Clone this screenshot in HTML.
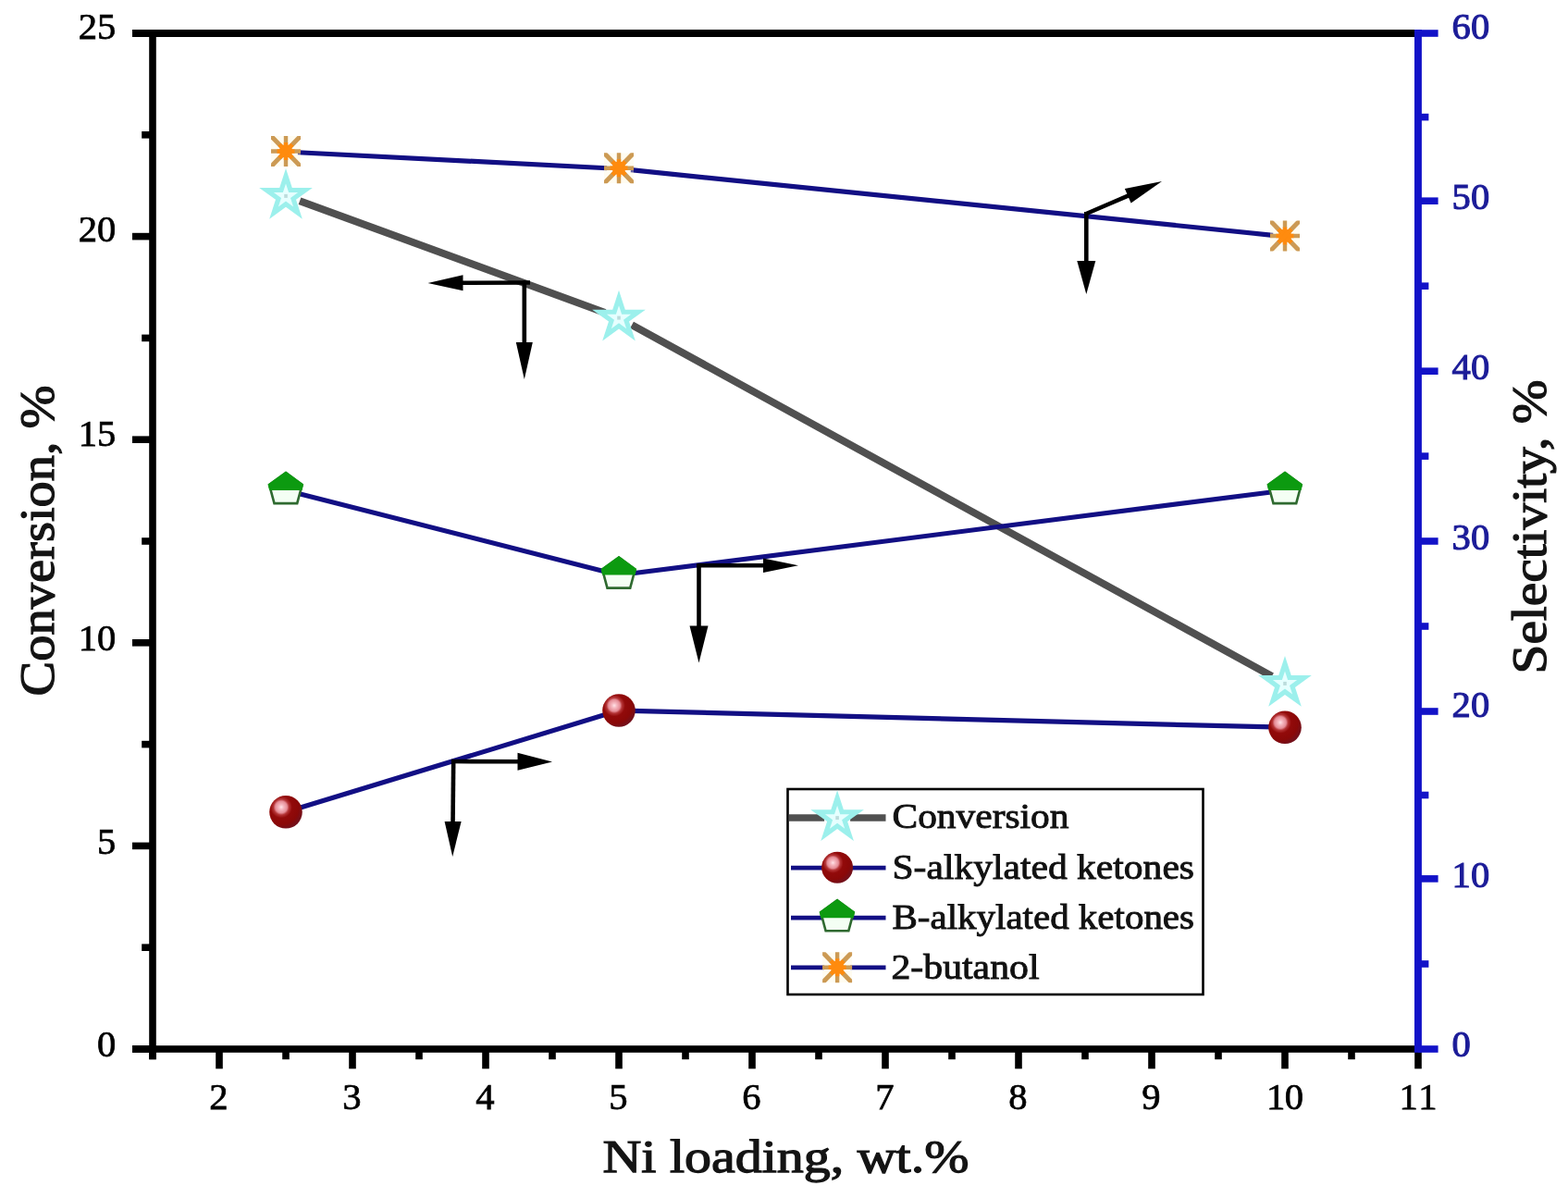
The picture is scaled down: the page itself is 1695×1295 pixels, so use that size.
<!DOCTYPE html>
<html lang="en"><head><meta charset="utf-8"><title>Conversion and selectivity vs Ni loading</title>
<style>html,body{margin:0;padding:0;background:#fff}body{width:1695px;height:1295px;overflow:hidden}svg{display:block}</style>
</head><body>
<svg width="1695" height="1295" viewBox="0 0 1695 1295">
<defs>
<radialGradient id="ball" cx="0.36" cy="0.35" r="0.66" fx="0.36" fy="0.35"><stop offset="0" stop-color="#ffe4e8"/><stop offset="0.10" stop-color="#f7bcc4"/><stop offset="0.27" stop-color="#e58c96"/><stop offset="0.36" stop-color="#b43436"/><stop offset="0.5" stop-color="#920a0a"/><stop offset="0.8" stop-color="#8a0808"/><stop offset="1" stop-color="#74101a"/></radialGradient>
<clipPath id="abox"><rect x="-16" y="-16.5" width="32" height="33"/></clipPath>
</defs>
<rect width="1695" height="1295" fill="#ffffff"/>
<line x1="324.03" y1="217.18" x2="653.97" y2="337.94" stroke="#505050" stroke-width="8.0"/>
<line x1="683.03" y1="351.14" x2="1374.97" y2="731.02" stroke="#505050" stroke-width="8.0"/>
<line x1="321.98" y1="164.76" x2="656.02" y2="181.74" stroke="#120f84" stroke-width="5.2"/>
<line x1="681.93" y1="183.71" x2="1376.07" y2="254.29" stroke="#120f84" stroke-width="5.2"/>
<line x1="321.60" y1="533.30" x2="656.40" y2="618.40" stroke="#120f84" stroke-width="5.2"/>
<line x1="681.90" y1="619.96" x2="1376.10" y2="531.74" stroke="#120f84" stroke-width="5.2"/>
<line x1="321.43" y1="874.01" x2="656.57" y2="771.79" stroke="#120f84" stroke-width="5.2"/>
<line x1="682.00" y1="768.33" x2="1376.00" y2="785.97" stroke="#120f84" stroke-width="5.2"/>
<circle cx="309.0" cy="877.8" r="17.8" fill="url(#ball)"/>
<circle cx="669.0" cy="768.0" r="17.8" fill="url(#ball)"/>
<circle cx="1389.0" cy="786.3" r="17.8" fill="url(#ball)"/>
<polygon points="309.00,511.00 326.60,524.00 321.20,544.10 296.50,544.10 291.10,524.00" fill="#f4fff4" stroke="#2f6a30" stroke-width="2.6"/>
<polygon points="309.00,509.60 328.10,523.60 326.50,530.10 291.20,530.10 289.60,523.60" fill="#0c9a10"/>
<polygon points="669.00,602.50 686.60,615.50 681.20,635.60 656.50,635.60 651.10,615.50" fill="#f4fff4" stroke="#2f6a30" stroke-width="2.6"/>
<polygon points="669.00,601.10 688.10,615.10 686.50,621.60 651.20,621.60 649.60,615.10" fill="#0c9a10"/>
<polygon points="1389.00,511.00 1406.60,524.00 1401.20,544.10 1376.50,544.10 1371.10,524.00" fill="#f4fff4" stroke="#2f6a30" stroke-width="2.6"/>
<polygon points="1389.00,509.60 1408.10,523.60 1406.50,530.10 1371.20,530.10 1369.60,523.60" fill="#0c9a10"/>
<polygon points="309.00,181.98 315.80,202.92 337.82,202.92 320.01,215.86 326.81,236.79 309.00,223.85 291.19,236.79 297.99,215.86 280.18,202.92 302.20,202.92" fill="#9cf0ec"/>
<polygon points="309.00,198.48 312.10,208.02 322.12,208.02 314.01,213.91 317.11,223.44 309.00,217.55 300.89,223.44 303.99,213.91 295.88,208.02 305.90,208.02" fill="#e6ffff"/>
<rect x="307.2" y="209.9" width="3.6" height="4" fill="#bcdcdc"/>
<polygon points="669.00,313.74 675.80,334.68 697.82,334.68 680.01,347.62 686.81,368.55 669.00,355.61 651.19,368.55 657.99,347.62 640.18,334.68 662.20,334.68" fill="#9cf0ec"/>
<polygon points="669.00,330.24 672.10,339.78 682.12,339.78 674.01,345.67 677.11,355.20 669.00,349.31 660.89,355.20 663.99,345.67 655.88,339.78 665.90,339.78" fill="#e6ffff"/>
<rect x="667.2" y="341.6" width="3.6" height="4" fill="#bcdcdc"/>
<polygon points="1389.00,709.02 1395.80,729.96 1417.82,729.96 1400.01,742.90 1406.81,763.83 1389.00,750.89 1371.19,763.83 1377.99,742.90 1360.18,729.96 1382.20,729.96" fill="#9cf0ec"/>
<polygon points="1389.00,725.52 1392.10,735.06 1402.12,735.06 1394.01,740.95 1397.11,750.48 1389.00,744.59 1380.89,750.48 1383.99,740.95 1375.88,735.06 1385.90,735.06" fill="#e6ffff"/>
<rect x="1387.2" y="736.9" width="3.6" height="4" fill="#bcdcdc"/>
<g transform="translate(309.00,163.50)" clip-path="url(#abox)"><rect x="-16" y="-16.5" width="32" height="33" fill="#fff6d8" opacity="0.35"/><g stroke="#cc9a54" stroke-width="4.4"><line x1="-17" y1="0" x2="17" y2="0"/><line x1="0" y1="-18" x2="0" y2="18"/><line x1="-18" y1="-18.56" x2="18" y2="18.56" stroke-width="5.0"/><line x1="-18" y1="18.56" x2="18" y2="-18.56" stroke-width="5.0"/></g><circle r="7.2" fill="#ff8b0e"/><g stroke="#ff8b0e" stroke-width="4.4"><line x1="-9.5" y1="0" x2="9.5" y2="0"/><line x1="0" y1="-9.5" x2="0" y2="9.5"/><line x1="-7" y1="-7.2" x2="7" y2="7.2"/><line x1="-7" y1="7.2" x2="7" y2="-7.2"/></g></g>
<g transform="translate(669.00,181.80)" clip-path="url(#abox)"><rect x="-16" y="-16.5" width="32" height="33" fill="#fff6d8" opacity="0.35"/><g stroke="#cc9a54" stroke-width="4.4"><line x1="-17" y1="0" x2="17" y2="0"/><line x1="0" y1="-18" x2="0" y2="18"/><line x1="-18" y1="-18.56" x2="18" y2="18.56" stroke-width="5.0"/><line x1="-18" y1="18.56" x2="18" y2="-18.56" stroke-width="5.0"/></g><circle r="7.2" fill="#ff8b0e"/><g stroke="#ff8b0e" stroke-width="4.4"><line x1="-9.5" y1="0" x2="9.5" y2="0"/><line x1="0" y1="-9.5" x2="0" y2="9.5"/><line x1="-7" y1="-7.2" x2="7" y2="7.2"/><line x1="-7" y1="7.2" x2="7" y2="-7.2"/></g></g>
<g transform="translate(1389.00,255.00)" clip-path="url(#abox)"><rect x="-16" y="-16.5" width="32" height="33" fill="#fff6d8" opacity="0.35"/><g stroke="#cc9a54" stroke-width="4.4"><line x1="-17" y1="0" x2="17" y2="0"/><line x1="0" y1="-18" x2="0" y2="18"/><line x1="-18" y1="-18.56" x2="18" y2="18.56" stroke-width="5.0"/><line x1="-18" y1="18.56" x2="18" y2="-18.56" stroke-width="5.0"/></g><circle r="7.2" fill="#ff8b0e"/><g stroke="#ff8b0e" stroke-width="4.4"><line x1="-9.5" y1="0" x2="9.5" y2="0"/><line x1="0" y1="-9.5" x2="0" y2="9.5"/><line x1="-7" y1="-7.2" x2="7" y2="7.2"/><line x1="-7" y1="7.2" x2="7" y2="-7.2"/></g></g>
<line x1="573.0" y1="305.5" x2="496.5" y2="305.8" stroke="#000" stroke-width="4.6"/>
<polygon points="462.5,306.0 500.5,297.3 500.5,314.3" fill="#000"/>
<line x1="566.8" y1="303.5" x2="566.8" y2="374.0" stroke="#000" stroke-width="4.6"/>
<polygon points="566.8,410.0 557.8,370.0 575.8,370.0" fill="#000"/>
<line x1="1174.3" y1="231.0" x2="1222.9" y2="210.2" stroke="#000" stroke-width="4.6"/>
<polygon points="1256.0,196.0 1222.6,219.6 1215.9,203.9" fill="#000"/>
<line x1="1174.3" y1="229.0" x2="1174.3" y2="286.0" stroke="#000" stroke-width="4.6"/>
<polygon points="1174.3,318.0 1164.3,282.0 1184.3,282.0" fill="#000"/>
<line x1="753.0" y1="611.3" x2="829.0" y2="611.3" stroke="#000" stroke-width="4.6"/>
<polygon points="863.0,611.3 825.0,619.0 825.0,603.5" fill="#000"/>
<line x1="755.5" y1="609.0" x2="755.5" y2="680.5" stroke="#000" stroke-width="4.6"/>
<polygon points="755.5,716.5 745.5,676.5 765.5,676.5" fill="#000"/>
<line x1="488.0" y1="823.0" x2="563.5" y2="823.3" stroke="#000" stroke-width="4.6"/>
<polygon points="597.0,823.5 559.5,832.8 559.5,813.8" fill="#000"/>
<line x1="490.2" y1="821.0" x2="489.5" y2="892.0" stroke="#000" stroke-width="4.6"/>
<polygon points="489.2,926.0 480.6,887.9 498.6,888.1" fill="#000"/>
<rect x="143" y="32.0" width="1390.0" height="8" fill="#000"/>
<rect x="143" y="1130.2" width="1390.0" height="7.6" fill="#000"/>
<rect x="161.2" y="32.0" width="7.6" height="1113.2" fill="#000"/>
<rect x="143" y="1130.2" width="22.0" height="7.6" fill="#000"/>
<rect x="153.2" y="1020.4" width="11.8" height="7.6" fill="#000"/>
<rect x="143" y="910.6" width="22.0" height="7.6" fill="#000"/>
<rect x="153.2" y="800.8" width="11.8" height="7.6" fill="#000"/>
<rect x="143" y="691.0" width="22.0" height="7.6" fill="#000"/>
<rect x="153.2" y="581.2" width="11.8" height="7.6" fill="#000"/>
<rect x="143" y="471.4" width="22.0" height="7.6" fill="#000"/>
<rect x="153.2" y="361.6" width="11.8" height="7.6" fill="#000"/>
<rect x="143" y="251.8" width="22.0" height="7.6" fill="#000"/>
<rect x="153.2" y="142.0" width="11.8" height="7.6" fill="#000"/>
<rect x="143" y="32.2" width="22.0" height="7.6" fill="#000"/>
<rect x="161.2" y="1134.0" width="7.6" height="11.2" fill="#000"/>
<rect x="233.2" y="1134.0" width="7.6" height="21.3" fill="#000"/>
<rect x="305.2" y="1134.0" width="7.6" height="11.2" fill="#000"/>
<rect x="377.2" y="1134.0" width="7.6" height="21.3" fill="#000"/>
<rect x="449.2" y="1134.0" width="7.6" height="11.2" fill="#000"/>
<rect x="521.2" y="1134.0" width="7.6" height="21.3" fill="#000"/>
<rect x="593.2" y="1134.0" width="7.6" height="11.2" fill="#000"/>
<rect x="665.2" y="1134.0" width="7.6" height="21.3" fill="#000"/>
<rect x="737.2" y="1134.0" width="7.6" height="11.2" fill="#000"/>
<rect x="809.2" y="1134.0" width="7.6" height="21.3" fill="#000"/>
<rect x="881.2" y="1134.0" width="7.6" height="11.2" fill="#000"/>
<rect x="953.2" y="1134.0" width="7.6" height="21.3" fill="#000"/>
<rect x="1025.2" y="1134.0" width="7.6" height="11.2" fill="#000"/>
<rect x="1097.2" y="1134.0" width="7.6" height="21.3" fill="#000"/>
<rect x="1169.2" y="1134.0" width="7.6" height="11.2" fill="#000"/>
<rect x="1241.2" y="1134.0" width="7.6" height="21.3" fill="#000"/>
<rect x="1313.2" y="1134.0" width="7.6" height="11.2" fill="#000"/>
<rect x="1385.2" y="1134.0" width="7.6" height="21.3" fill="#000"/>
<rect x="1457.2" y="1134.0" width="7.6" height="11.2" fill="#000"/>
<rect x="1529.2" y="1134.0" width="7.6" height="21.3" fill="#000"/>
<rect x="1529.0" y="32.0" width="7.9" height="1105.8" fill="#1212c8"/>
<rect x="1533.0" y="1130.2" width="21.6" height="7.6" fill="#1212c8"/>
<rect x="1533.0" y="1038.2" width="11.4" height="7.6" fill="#1212c8"/>
<rect x="1533.0" y="946.1" width="21.6" height="7.6" fill="#1212c8"/>
<rect x="1533.0" y="855.7" width="11.4" height="7.6" fill="#1212c8"/>
<rect x="1533.0" y="765.2" width="21.6" height="7.6" fill="#1212c8"/>
<rect x="1533.0" y="673.2" width="11.4" height="7.6" fill="#1212c8"/>
<rect x="1533.0" y="581.2" width="21.6" height="7.6" fill="#1212c8"/>
<rect x="1533.0" y="489.3" width="11.4" height="7.6" fill="#1212c8"/>
<rect x="1533.0" y="397.4" width="21.6" height="7.6" fill="#1212c8"/>
<rect x="1533.0" y="305.4" width="11.4" height="7.6" fill="#1212c8"/>
<rect x="1533.0" y="213.4" width="21.6" height="7.6" fill="#1212c8"/>
<rect x="1533.0" y="122.8" width="11.4" height="7.6" fill="#1212c8"/>
<rect x="1533.0" y="32.2" width="21.6" height="7.6" fill="#1212c8"/>
<g font-family='"Liberation Serif", "DejaVu Serif", serif' font-size="40.6" fill="#000" stroke="#000" stroke-width="0.75">
<text x="125.4" y="1142.3" text-anchor="end">0</text>
<text x="125.4" y="922.7" text-anchor="end">5</text>
<text x="125.4" y="703.4" text-anchor="end">10</text>
<text x="125.4" y="481.7" text-anchor="end">15</text>
<text x="125.4" y="261.4" text-anchor="end">20</text>
<text x="125.4" y="42.3" text-anchor="end">25</text>
<text x="236.5" y="1198.6" text-anchor="middle">2</text>
<text x="380.5" y="1198.6" text-anchor="middle">3</text>
<text x="524.5" y="1198.6" text-anchor="middle">4</text>
<text x="668.5" y="1198.6" text-anchor="middle">5</text>
<text x="812.5" y="1198.6" text-anchor="middle">6</text>
<text x="956.5" y="1198.6" text-anchor="middle">7</text>
<text x="1100.5" y="1198.6" text-anchor="middle">8</text>
<text x="1244.5" y="1198.6" text-anchor="middle">9</text>
<text x="1389.0" y="1198.6" text-anchor="middle" textLength="40" lengthAdjust="spacing">10</text>
<text x="1533.0" y="1198.6" text-anchor="middle" textLength="41" lengthAdjust="spacing">11</text>
</g>
<g font-family='"Liberation Serif", "DejaVu Serif", serif' font-size="40.6" fill="#1c1c98" stroke="#1c1c98" stroke-width="1.1">
<text x="1569.6" y="1142.2" text-anchor="start">0</text>
<text x="1569.6" y="958.7" text-anchor="start">10</text>
<text x="1569.6" y="774.7" text-anchor="start">20</text>
<text x="1569.6" y="593.9" text-anchor="start">30</text>
<text x="1569.6" y="409.6" text-anchor="start">40</text>
<text x="1569.6" y="225.7" text-anchor="start">50</text>
<text x="1569.6" y="41.8" text-anchor="start">60</text>
</g>
<g font-family='"Liberation Serif", "DejaVu Serif", serif' fill="#141414" stroke="#141414" stroke-width="1.25">
<text x="651.5" y="1267.2" font-size="50" textLength="396" lengthAdjust="spacingAndGlyphs">Ni loading, wt.%</text>
<text transform="translate(57.5,752.5) rotate(-90)" font-size="52.5" textLength="336" lengthAdjust="spacingAndGlyphs">Conversion, %</text>
<text transform="translate(1671,728.5) rotate(-90)" font-size="53" textLength="318" lengthAdjust="spacingAndGlyphs">Selectivity, %</text>
</g>
<rect x="851.5" y="853" width="449" height="222" fill="#fff" stroke="#000" stroke-width="2.6"/>
<line x1="853" y1="884" x2="891.1" y2="884" stroke="#505050" stroke-width="7.4"/>
<line x1="919.1" y1="884" x2="957.5" y2="884" stroke="#505050" stroke-width="7.4"/>
<polygon points="905.10,854.20 911.90,875.14 933.92,875.14 916.11,888.08 922.91,909.01 905.10,896.07 887.29,909.01 894.09,888.08 876.28,875.14 898.30,875.14" fill="#9cf0ec"/>
<polygon points="905.10,870.70 908.20,880.24 918.22,880.24 910.11,886.13 913.21,895.66 905.10,889.77 896.99,895.66 900.09,886.13 891.98,880.24 902.00,880.24" fill="#e6ffff"/>
<rect x="903.3" y="882.1" width="3.6" height="4" fill="#bcdcdc"/>
<line x1="855" y1="938.2" x2="891.1" y2="938.2" stroke="#120f84" stroke-width="4.8"/>
<line x1="919.1" y1="938.2" x2="957.5" y2="938.2" stroke="#120f84" stroke-width="4.8"/>
<circle cx="905.1" cy="937.7" r="17" fill="url(#ball)"/>
<line x1="855" y1="992.2" x2="891.1" y2="992.2" stroke="#120f84" stroke-width="4.8"/>
<line x1="919.1" y1="992.2" x2="957.5" y2="992.2" stroke="#120f84" stroke-width="4.8"/>
<polygon points="905.10,973.20 922.70,986.20 917.30,1006.30 892.60,1006.30 887.20,986.20" fill="#f4fff4" stroke="#2f6a30" stroke-width="2.6"/>
<polygon points="905.10,971.80 924.20,985.80 922.60,992.30 887.30,992.30 885.70,985.80" fill="#0c9a10"/>
<line x1="855" y1="1045.8" x2="891.1" y2="1045.8" stroke="#120f84" stroke-width="4.8"/>
<line x1="919.1" y1="1045.8" x2="957.5" y2="1045.8" stroke="#120f84" stroke-width="4.8"/>
<g transform="translate(905.10,1045.80)" clip-path="url(#abox)"><rect x="-16" y="-16.5" width="32" height="33" fill="#fff6d8" opacity="0.35"/><g stroke="#cc9a54" stroke-width="4.4"><line x1="-17" y1="0" x2="17" y2="0"/><line x1="0" y1="-18" x2="0" y2="18"/><line x1="-18" y1="-18.56" x2="18" y2="18.56" stroke-width="5.0"/><line x1="-18" y1="18.56" x2="18" y2="-18.56" stroke-width="5.0"/></g><circle r="7.2" fill="#ff8b0e"/><g stroke="#ff8b0e" stroke-width="4.4"><line x1="-9.5" y1="0" x2="9.5" y2="0"/><line x1="0" y1="-9.5" x2="0" y2="9.5"/><line x1="-7" y1="-7.2" x2="7" y2="7.2"/><line x1="-7" y1="7.2" x2="7" y2="-7.2"/></g></g>
<g font-family='"Liberation Serif", "DejaVu Serif", serif' font-size="37" fill="#111" stroke="#111" stroke-width="0.9">
<text x="964.5" y="895.2" textLength="191" lengthAdjust="spacingAndGlyphs">Conversion</text>
<text x="964.5" y="949.6" textLength="326.5" lengthAdjust="spacingAndGlyphs">S-alkylated ketones</text>
<text x="964.5" y="1004.0" textLength="326.5" lengthAdjust="spacingAndGlyphs">B-alkylated ketones</text>
<text x="963.5" y="1058.0" textLength="160" lengthAdjust="spacingAndGlyphs">2-butanol</text>
</g>
</svg>
</body></html>
